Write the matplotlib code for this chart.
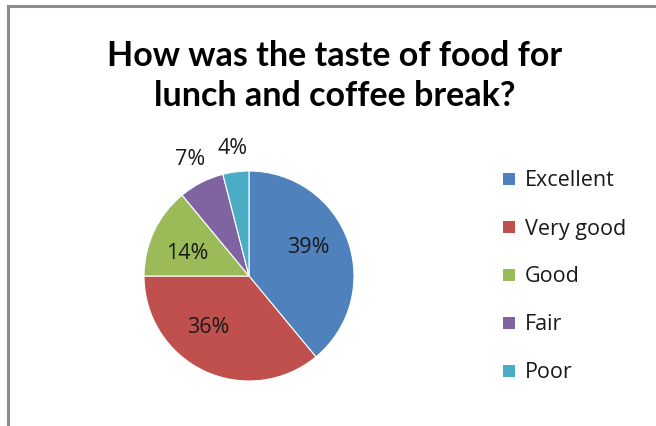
import numpy as np
import matplotlib
matplotlib.use("Agg")
import matplotlib.pyplot as plt
from matplotlib.patches import Rectangle
from matplotlib.lines import Line2D

categories = ["Excellent", "Very good", "Good", "Fair", "Poor"]
values = [39, 36, 14, 7, 4]
colors = ["#4F81BD", "#C0504D", "#9BBB59", "#8064A2", "#4BACC6"]
title = "How was the taste of food for\nlunch and coffee break?"

# label placement (radius fraction, angular nudge in degrees)
label_r = [0.63, 0.63, 0.63, 1.24, 1.22]
label_nudge = [6, -13, 5, 0, 0]

TFONT = "Lato"
FONT = "Open Sans"
W, H = 656, 426
fig = plt.figure(figsize=(W / 100, H / 100), dpi=100)
fig.patch.set_facecolor("white")

# chart border (top and left)
fig.add_artist(Line2D([7.5 / W, 1], [1 - 5.5 / H, 1 - 5.5 / H], color="#8c8c8c", lw=2.2))
fig.add_artist(Line2D([7.5 / W, 7.5 / W], [0, 1 - 5.5 / H], color="#8c8c8c", lw=2.2))

fig.text(335 / W, 1 - 76 / H, title, ha="center", va="center", fontsize=24.5,
         fontweight="bold", family=TFONT, linespacing=1.33)

cx, cy, r = 249, 276, 105
ax = fig.add_axes([(cx - r) / W, (H - cy - r) / H, 2 * r / W, 2 * r / H])
wedges, _ = ax.pie(values, colors=colors, startangle=90, counterclock=False,
                   radius=1, wedgeprops=dict(linewidth=0.8, edgecolor="white"))
ax.set_xlim(-1, 1)
ax.set_ylim(-1, 1)
ax.axis("off")
for w, v, rf, nd in zip(wedges, values, label_r, label_nudge):
    mid = np.deg2rad((w.theta1 + w.theta2) / 2 + nd)
    ax.text(rf * np.cos(mid), rf * np.sin(mid), f"{v}%", ha="center", va="center",
            fontsize=15.5, family=FONT, color="#1a1a1a", clip_on=False)

# legend
lx, ly0, dy = 509, 179, 48
for i, (c, name) in enumerate(zip(colors, categories)):
    y = ly0 + i * dy
    fig.add_artist(Rectangle(((lx - 6) / W, 1 - (y + 6) / H), 12 / W, 12 / H,
                             facecolor=c, edgecolor="none"))
    fig.text((lx + 16) / W, 1 - (y + 2) / H, name, ha="left", va="center",
             fontsize=15.5, family=FONT, color="#1a1a1a")

fig.savefig("out.png", dpi=100, facecolor="white")
